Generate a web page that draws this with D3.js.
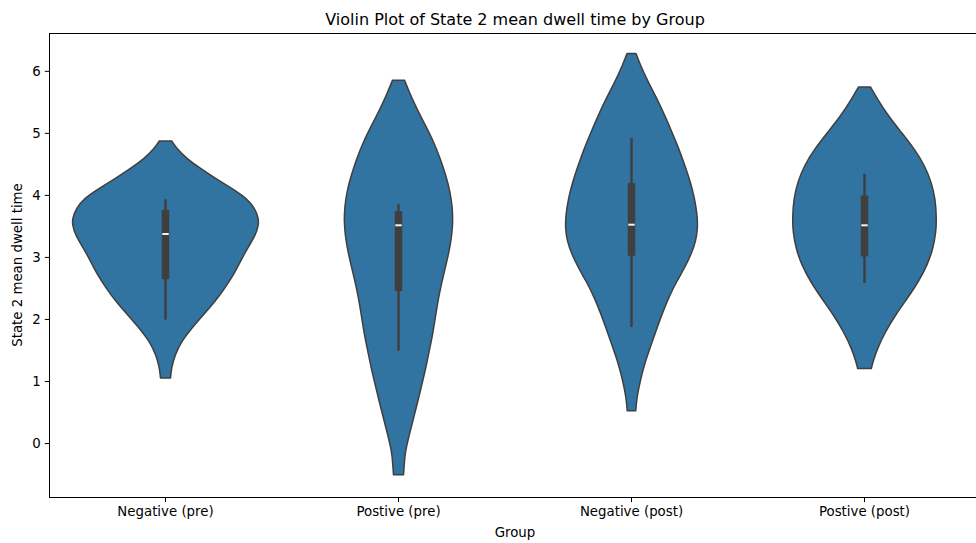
<!DOCTYPE html>
<html>
<head>
<meta charset="utf-8">
<script src="https://cdn.jsdelivr.net/npm/d3@7"></script>
<style>
  html, body { margin: 0; padding: 0; background: #fff; }
  svg { display: block; font-family: "DejaVu Sans", sans-serif; }
</style>
</head>
<body>
<svg id="chart" width="976" height="543"></svg>
<script>
// Groups along the x axis
const groups = ["Negative (pre)", "Postive (pre)", "Negative (post)", "Postive (post)"];

// Box summary per group (State 2 mean dwell time)
const whiskerLow  = [1.99, 1.49, 1.87, 2.58];
const quartile1   = [2.64, 2.45, 3.02, 3.01];
const medians     = [3.37, 3.51, 3.52, 3.51];
const quartile3   = [3.76, 3.74, 4.19, 3.99];
const whiskerHigh = [3.93, 3.85, 4.92, 4.34];

// Kernel density profiles: [value, density relative to the widest violin]
const densityNegativePre = [
  [4.87, 0.067], [4.75, 0.118], [4.59, 0.225], [4.43, 0.370], [4.27, 0.531],
  [4.11, 0.708], [3.95, 0.869], [3.78, 0.960], [3.62, 0.998], [3.52, 1.000],
  [3.35, 0.966], [3.14, 0.880], [2.92, 0.800], [2.71, 0.730], [2.50, 0.638],
  [2.28, 0.531], [2.07, 0.408], [1.85, 0.279], [1.64, 0.172], [1.42, 0.102],
  [1.21, 0.064], [1.05, 0.054]
];
const densityPositivePre = [
  [5.85, 0.064], [5.66, 0.115], [5.39, 0.196], [5.13, 0.286], [4.86, 0.376],
  [4.59, 0.447], [4.32, 0.507], [4.05, 0.555], [3.78, 0.579], [3.57, 0.583],
  [3.35, 0.572], [3.09, 0.544], [2.82, 0.501], [2.55, 0.458], [2.28, 0.422],
  [2.01, 0.394], [1.74, 0.365], [1.48, 0.329], [1.21, 0.293], [0.94, 0.250],
  [0.67, 0.207], [0.40, 0.161], [0.13, 0.115], [-0.14, 0.072], [-0.35, 0.061],
  [-0.51, 0.054]
];
const densityNegativePost = [
  [6.28, 0.048], [6.10, 0.093], [5.83, 0.175], [5.56, 0.271], [5.29, 0.354],
  [5.02, 0.432], [4.76, 0.504], [4.49, 0.569], [4.22, 0.630], [3.95, 0.676],
  [3.68, 0.705], [3.47, 0.711], [3.25, 0.690], [3.04, 0.640], [2.82, 0.569],
  [2.61, 0.486], [2.34, 0.397], [2.07, 0.325], [1.80, 0.261], [1.54, 0.201],
  [1.27, 0.139], [1.00, 0.093], [0.73, 0.057], [0.52, 0.046]
];
const densityPositivePost = [
  [5.74, 0.064], [5.55, 0.137], [5.28, 0.252], [5.01, 0.395], [4.74, 0.536],
  [4.48, 0.644], [4.21, 0.717], [3.94, 0.760], [3.62, 0.773], [3.40, 0.767],
  [3.13, 0.735], [2.87, 0.674], [2.60, 0.579], [2.33, 0.459], [2.06, 0.330],
  [1.79, 0.223], [1.52, 0.137], [1.31, 0.091], [1.20, 0.073]
];
const densities = [densityNegativePre, densityPositivePre, densityNegativePost, densityPositivePost];

const yTicks = [0, 1, 2, 3, 4, 5, 6];

const titleText = "Violin Plot of State 2 mean dwell time by Group";
const xLabelText = "Group";
const yLabelText = "State 2 mean dwell time";

// Plot area
const plot = { left: 49, right: 981, top: 33, bottom: 497 };
const fillColor = "#3274a1", edgeColor = "#3f3f3f";

const svg = d3.select("#chart");

const x = d3.scaleBand().domain(groups).range([plot.left, plot.right]).padding(0);
const y = d3.scaleLinear().domain([-0.87, 6.61]).range([plot.bottom, plot.top]);
const halfWidth = d3.scaleLinear().domain([0, 1]).range([0, x.step() * 0.4]);

// Violins
groups.forEach((g, i) => {
  const cx = x(g) + x.bandwidth() / 2;
  const area = d3.area()
    .y(d => y(d[0]))
    .x0(d => cx - halfWidth(d[1]))
    .x1(d => cx + halfWidth(d[1]))
    .curve(d3.curveBasis);
  svg.append("path")
    .datum(densities[i])
    .attr("d", area)
    .attr("fill", fillColor)
    .attr("stroke", edgeColor)
    .attr("stroke-width", 1.5)
    .attr("stroke-linejoin", "round");

  // Inner box: whisker, IQR box, median
  svg.append("line")
    .attr("x1", cx).attr("x2", cx)
    .attr("y1", y(whiskerLow[i])).attr("y2", y(whiskerHigh[i]))
    .attr("stroke", edgeColor).attr("stroke-width", 2.5);
  svg.append("line")
    .attr("x1", cx).attr("x2", cx)
    .attr("y1", y(quartile1[i])).attr("y2", y(quartile3[i]))
    .attr("stroke", edgeColor).attr("stroke-width", 7.5);
  svg.append("line")
    .attr("x1", cx - 3.2).attr("x2", cx + 3.2)
    .attr("y1", y(medians[i])).attr("y2", y(medians[i]))
    .attr("stroke", "#f2f2f2").attr("stroke-width", 2);
});

// Spines
svg.append("rect")
  .attr("x", plot.left + 0.5).attr("y", plot.top + 0.5)
  .attr("width", plot.right - plot.left).attr("height", plot.bottom - plot.top)
  .attr("fill", "none").attr("stroke", "#000").attr("stroke-width", 1);

// Y axis
const yAxis = d3.axisLeft(y).tickValues(yTicks).tickFormat(d3.format("d"))
  .tickSizeInner(4.7).tickSizeOuter(0).tickPadding(4.2);
const gy = svg.append("g").attr("transform", `translate(${plot.left + 0.5},0)`).call(yAxis);
gy.select(".domain").remove();
gy.selectAll(".tick line").attr("stroke", "#000");
gy.selectAll(".tick text").attr("fill", "#000")
  .style("font-size", "13.33px").style("font-family", "DejaVu Sans, sans-serif");

// X axis
const xAxis = d3.axisBottom(x).tickSizeInner(4.7).tickSizeOuter(0).tickPadding(4.2);
const gx = svg.append("g").attr("transform", `translate(0,${plot.bottom + 0.5})`).call(xAxis);
gx.select(".domain").remove();
gx.selectAll(".tick line").attr("stroke", "#000");
gx.selectAll(".tick text").attr("fill", "#000")
  .style("font-size", "13.33px").style("font-family", "DejaVu Sans, sans-serif");

// Titles
svg.append("text")
  .attr("x", (plot.left + plot.right) / 2).attr("y", 25)
  .attr("text-anchor", "middle")
  .style("font-size", "16px").attr("fill", "#000")
  .text(titleText);

svg.append("text")
  .attr("x", (plot.left + plot.right) / 2).attr("y", 537)
  .attr("text-anchor", "middle")
  .style("font-size", "13.33px").attr("fill", "#000")
  .text(xLabelText);

svg.append("text")
  .attr("transform", `translate(22,${(plot.top + plot.bottom) / 2}) rotate(-90)`)
  .attr("text-anchor", "middle")
  .style("font-size", "13.33px").attr("fill", "#000")
  .text(yLabelText);
</script>
</body>
</html>
